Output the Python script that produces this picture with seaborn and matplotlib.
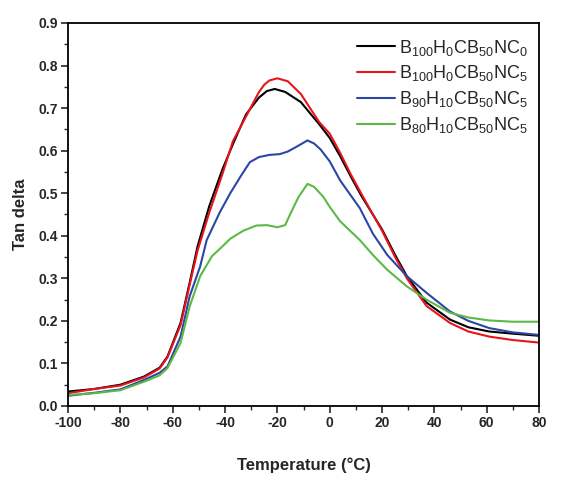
import matplotlib
matplotlib.use("Agg")
import matplotlib.pyplot as plt
from matplotlib.ticker import MultipleLocator, FormatStrFormatter
import pandas as pd
import seaborn as sns

# Tan delta vs temperature
temp_b100_nc0 = [-100, -90, -80, -71, -65, -62, -57, -53.5, -50.5, -46, -41, -37, -32, -27, -24, -21, -17, -11, -4, 0, 4, 8, 12, 16.5, 20, 25, 29.5, 37, 46, 53, 61, 70, 80]
tan_b100_nc0 = [0.034, 0.040, 0.050, 0.069, 0.090, 0.116, 0.195, 0.290, 0.375, 0.470, 0.556, 0.615, 0.685, 0.725, 0.740, 0.745, 0.738, 0.714, 0.662, 0.630, 0.587, 0.540, 0.495, 0.450, 0.415, 0.355, 0.305, 0.243, 0.203, 0.185, 0.175, 0.170, 0.165]

temp_b100_nc5 = [-100, -90, -80, -71, -65, -62, -57, -53.5, -50.5, -46, -41, -37, -32, -29, -27, -25, -23, -20, -16, -11, -4, 0, 4, 8, 12, 16.5, 20, 25, 29.5, 37, 46, 53, 61, 70, 80]
tan_b100_nc5 = [0.030, 0.040, 0.048, 0.067, 0.088, 0.114, 0.190, 0.285, 0.365, 0.455, 0.545, 0.622, 0.680, 0.715, 0.738, 0.755, 0.765, 0.770, 0.763, 0.733, 0.667, 0.640, 0.595, 0.545, 0.500, 0.450, 0.412, 0.350, 0.300, 0.235, 0.195, 0.175, 0.163, 0.155, 0.149]

temp_b90_nc5 = [-100, -90, -80, -71, -65, -62, -57, -53.5, -49.5, -47, -42, -38, -34, -30.5, -27, -23, -19, -16, -13, -8.5, -6, -3.5, 0, 4, 11.5, 16.5, 22, 29.5, 37, 46, 53, 61, 70, 80]
tan_b90_nc5 = [0.024, 0.031, 0.039, 0.061, 0.078, 0.093, 0.163, 0.258, 0.328, 0.390, 0.455, 0.500, 0.540, 0.573, 0.585, 0.590, 0.592, 0.598, 0.608, 0.624, 0.617, 0.603, 0.575, 0.530, 0.465, 0.405, 0.355, 0.305, 0.266, 0.222, 0.200, 0.183, 0.173, 0.167]

temp_b80_nc5 = [-100, -90, -80, -71, -65, -62, -57, -53.5, -49.5, -45, -41, -38, -33, -28, -24, -20, -17, -15, -12, -8.5, -6, -2.5, 0, 4, 11.5, 16.5, 22, 29.5, 37, 46, 53, 61, 70, 80]
tan_b80_nc5 = [0.026, 0.030, 0.037, 0.057, 0.072, 0.089, 0.148, 0.234, 0.305, 0.352, 0.375, 0.393, 0.412, 0.424, 0.425, 0.420, 0.425, 0.452, 0.490, 0.522, 0.515, 0.492, 0.468, 0.434, 0.390, 0.355, 0.320, 0.281, 0.250, 0.219, 0.208, 0.201, 0.198, 0.198]

labels = [
    r"B$_{100}$H$_{0}$CB$_{50}$NC$_{0}$",
    r"B$_{100}$H$_{0}$CB$_{50}$NC$_{5}$",
    r"B$_{90}$H$_{10}$CB$_{50}$NC$_{5}$",
    r"B$_{80}$H$_{10}$CB$_{50}$NC$_{5}$",
]
colors = ["#000000", "#e8141c", "#2b47a3", "#5cb947"]

series = [
    (temp_b100_nc0, tan_b100_nc0),
    (temp_b100_nc5, tan_b100_nc5),
    (temp_b90_nc5, tan_b90_nc5),
    (temp_b80_nc5, tan_b80_nc5),
]

sns.set_style("ticks")
plt.rcParams["font.family"] = ["Liberation Sans", "DejaVu Sans"]
plt.rcParams["mathtext.fontset"] = "custom"
plt.rcParams["mathtext.rm"] = "Liberation Sans"
plt.rcParams["mathtext.it"] = "Liberation Sans"
plt.rcParams["axes.unicode_minus"] = False

fig = plt.figure(figsize=(5.65, 4.82), dpi=100)
ax = fig.add_axes([0.1204, 0.1577, 0.8336, 0.7946])

for (t, v), lab, col in zip(series, labels, colors):
    df = pd.DataFrame({"temp": t, "tan": v})
    sns.lineplot(data=df, x="temp", y="tan", color=col, linewidth=1.5,
                 label=lab, sort=False, estimator=None, ax=ax)

ax.set_xlim(-100, 80)
ax.set_ylim(0.0, 0.9)
ax.xaxis.set_major_locator(MultipleLocator(20))
ax.xaxis.set_minor_locator(MultipleLocator(10))
ax.yaxis.set_major_locator(MultipleLocator(0.1))
ax.yaxis.set_minor_locator(MultipleLocator(0.05))
ax.yaxis.set_major_formatter(FormatStrFormatter("%.1f"))

ax.tick_params(which="major", direction="out", length=5, width=1.2,
               labelsize=10, pad=2)
ax.tick_params(which="minor", direction="out", length=3, width=1.0)
for lab in ax.get_xticklabels() + ax.get_yticklabels():
    lab.set_fontweight("bold")
for sp in ax.spines.values():
    sp.set_linewidth(1.3)
    sp.set_color("black")

ax.set_xlabel("Temperature (°C)", fontsize=12, fontweight="bold", labelpad=20)
ax.set_ylabel("Tan delta", fontsize=12, fontweight="bold", labelpad=8)

leg = ax.legend(loc="upper right", bbox_to_anchor=(1.0, 0.99), frameon=False,
                fontsize=13, handlelength=2.1, handletextpad=0.25,
                labelspacing=0.32, borderaxespad=0.2)

fig.savefig("out.png", dpi=100)
